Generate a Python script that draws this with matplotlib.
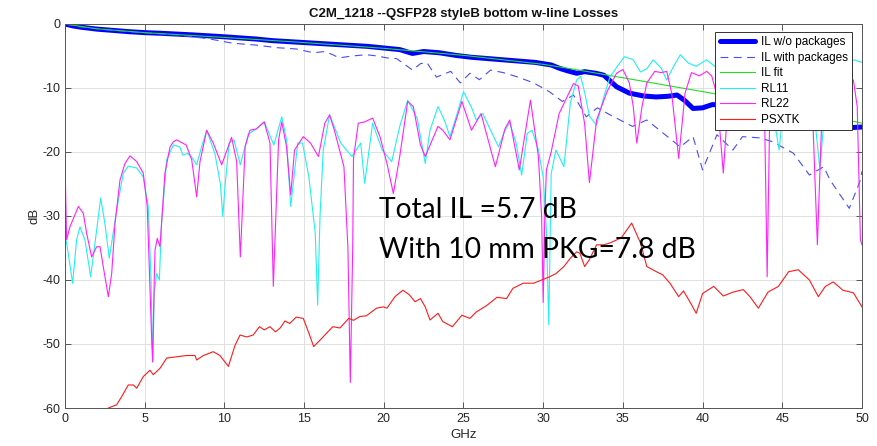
import matplotlib
matplotlib.use("Agg")
import matplotlib.pyplot as plt

plt.rcParams['font.family'] = ['Liberation Sans', 'DejaVu Sans']
plt.rcParams['axes.unicode_minus'] = False

# IL without packages (thick blue)
il_f = [0, 0.5, 1, 2, 3, 4, 5, 6, 8, 10, 12, 13, 15, 17, 19, 20, 21, 21.8, 22.5, 23.5,
        24.5, 25.5, 26.5, 27.5, 28.5, 29.5, 30.5, 31.0, 31.5, 32.1, 32.6, 33.3, 33.8, 34.6,
        35.4, 36.3, 37.1, 37.8, 38.4, 38.9, 39.4, 40.0, 40.6, 41.5, 43, 45, 47, 48.2, 49.2, 50]
il_db = [0, -0.3, -0.5, -0.8, -1.0, -1.2, -1.35, -1.45, -1.7, -2.0, -2.35, -2.6, -2.9, -3.2,
         -3.5, -3.75, -4.0, -4.6, -4.3, -4.5, -4.9, -5.2, -5.4, -5.6, -5.8, -6.0, -6.4, -6.9,
         -7.3, -7.7, -7.45, -7.7, -8.0, -9.8, -10.8, -11.25, -11.4, -11.3, -11.1, -12.0,
         -13.2, -13.1, -12.6, -12.6, -13.3, -14.0, -14.6, -15.5, -16.2, -16.1]

# IL with packages (dashed)
ilp_f = [0, 1, 3, 5, 7, 8, 9, 10.5, 12, 13.3, 14.5, 15.6, 16.3, 16.8, 17.2, 18, 18.9, 19.6,
         20.2, 20.8, 21.8, 22.3, 22.7, 23.3, 24.2, 24.8, 25.4, 26.0, 26.7, 27.5, 28.3, 29.4,
         30.4, 31.2, 31.9, 32.7, 33.4, 34.2, 35.6, 36.5, 37.5, 38.6, 39.4, 40.0, 40.9, 41.9,
         42.5, 43.6, 44.4, 45.7, 46.7, 47.6, 48.0, 49.2, 49.9, 50]
ilp_db = [0, -0.5, -1.0, -1.4, -1.7, -2.0, -2.3, -3.0, -3.3, -3.7, -3.9, -4.5, -4.3, -4.8,
          -5.3, -5.0, -4.8, -5.0, -5.3, -5.4, -7.2, -6.2, -6.0, -8.3, -7.4, -9.2, -7.7, -8.7,
          -7.2, -7.6, -8.2, -9.2, -10.6, -12.1, -11.1, -14.5, -13.1, -14.2, -16.0, -15.0,
          -17.0, -19.2, -17.6, -22.8, -17.3, -19.7, -17.6, -17.8, -18.4, -20.2, -23.6, -22.3,
          -24.4, -28.8, -24.4, -23.0]

# IL fit
fit_f = [0, 2, 5, 10, 15, 20, 25, 30, 32, 35, 38, 41, 44, 47, 50]
fit_db = [0, -0.75, -1.35, -2.1, -2.9, -3.8, -4.9, -6.3, -7.1, -8.4, -9.7, -11.0, -12.4,
          -13.9, -15.5]

# RL11 (cyan)
rl11_f = [0.0, 0.06, 0.2, 0.48, 0.73, 0.94, 1.25, 1.61, 1.88, 2.24, 2.5, 2.78, 3.03, 3.35,
          3.66, 3.97, 4.5, 4.91, 5.22, 5.4, 5.5, 5.6, 5.75, 5.92, 6.06, 6.38, 6.8, 7.2, 7.4,
          7.7, 8.0, 8.26, 8.57, 8.89, 9.4, 9.75, 9.9, 10.05, 10.3, 10.6, 11.0, 11.5, 12.0,
          12.5, 13.1, 13.6, 13.9, 14.16, 14.6, 14.9, 15.3, 15.7, 15.85, 16.0, 16.2, 16.6,
          17.3, 18.0, 18.55, 18.8, 19.3, 19.9, 20.5, 21.0, 21.5, 22.1, 22.6, 22.9, 23.4,
          23.8, 24.15, 24.6, 25.0, 25.5, 25.8, 26.2, 26.7, 27.2, 27.6, 27.9, 28.3, 28.65,
          29.0, 29.3, 29.7, 30.0, 30.2, 30.35, 30.5, 30.8, 31.3, 31.7, 32.1, 32.35, 32.6,
          32.9, 33.35, 33.8, 34.2, 34.8, 35.1, 35.65, 36.1, 36.5, 36.9, 37.4, 37.75, 38.1,
          38.6, 39.1, 39.6, 40.26, 40.8, 41.5, 42.5, 43.5, 44.3, 44.8, 45.2, 46.0, 46.8,
          47.35, 47.8, 48.5, 49.5, 50.0]
rl11_db = [-21.2, -33.7, -35.8, -40.5, -33.7, -31.7, -33.7, -39.5, -34.3, -27.2, -31.1,
           -36.6, -32.5, -27.5, -23.3, -22.2, -22.5, -23.9, -28.5, -40.0, -52.8, -42.0,
           -39.0, -40.0, -31.1, -21.2, -18.9, -19.2, -20.5, -20.2, -21.0, -22.0, -19.2,
           -16.6, -20.2, -25.0, -30.1, -25.0, -18.6, -18.1, -22.0, -17.2, -16.4, -15.3,
           -18.9, -14.5, -18.1, -28.5, -18.6, -18.6, -23.9, -32.7, -43.9, -30.0, -19.7,
           -14.2, -18.6, -20.7, -18.6, -24.9, -15.5, -19.7, -21.5, -16.0, -11.9, -14.8,
           -21.8, -16.6, -12.9, -15.0, -17.6, -14.0, -10.6, -13.0, -15.0, -14.0, -16.6,
           -19.2, -16.6, -15.4, -18.6, -23.6, -17.1, -16.6, -19.7, -23.9, -32.2, -47.0,
           -23.4, -19.7, -22.3, -12.4, -8.75, -8.2, -10.7, -14.4, -15.8, -11.4, -8.2, -6.1,
           -5.1, -5.6, -7.5, -7.0, -5.6, -6.9, -8.75, -7.0, -4.8, -6.1, -6.6, -5.6, -6.7,
           -8.0, -7.0, -9.0, -12.0, -19.7, -10.0, -7.0, -9.0, -22.5, -10.0, -7.0, -5.6, -6.0]

# RL22 (magenta)
rl22_f = [0.0, 0.1, 0.31, 0.84, 1.15, 1.36, 1.67, 1.99, 2.2, 2.4, 2.72, 2.93, 3.14, 3.45,
          3.76, 4.08, 4.5, 4.91, 5.16, 5.44, 5.5, 5.6, 5.65, 5.79, 5.96, 6.27, 6.59, 6.8,
          7.0, 7.6, 7.95, 8.26, 8.47, 8.89, 9.3, 9.83, 10.45, 10.77, 11.0, 11.3, 11.6, 12.0,
          12.5, 12.86, 13.07, 13.4, 13.6, 13.9, 14.16, 14.4, 14.95, 15.4, 15.9, 16.3, 16.6,
          16.9, 17.5, 17.75, 17.9, 18.05, 18.1, 18.4, 18.8, 19.3, 19.76, 20.2, 20.6, 21.0,
          21.5, 21.85, 22.3, 22.6, 23.4, 23.7, 24.15, 24.9, 25.5, 26.1, 27.0, 27.6, 27.9,
          28.5, 29.2, 29.7, 29.9, 30.0, 30.1, 30.2, 30.5, 31.0, 31.9, 32.2, 32.6, 32.9,
          33.35, 34.0, 34.6, 35.0, 35.4, 35.65, 35.87, 36.2, 36.5, 37.0, 37.4, 37.75, 38.06,
          38.5, 38.9, 39.3, 39.8, 40.26, 40.57, 40.9, 41.3, 41.6, 42.5, 43.5, 43.9, 44.05,
          44.2, 45.0, 46.0, 46.9, 47.2, 47.5, 48.5, 49.46, 49.7, 49.9, 50.0]
rl22_db = [-21.2, -33.7, -31.7, -28.5, -29.6, -32.7, -36.4, -34.8, -34.8, -37.9, -42.6,
           -39.0, -31.1, -24.4, -21.8, -20.6, -21.5, -23.3, -28.5, -49.4, -52.8, -40.0,
           -35.3, -33.5, -34.8, -23.3, -19.2, -18.4, -18.1, -18.9, -21.2, -27.0, -21.5,
           -16.6, -18.6, -22.0, -17.7, -21.5, -36.4, -19.2, -16.6, -16.4, -15.3, -18.6,
           -41.0, -18.1, -15.3, -19.2, -26.7, -19.7, -17.6, -18.6, -20.7, -15.5, -14.2,
           -16.6, -22.3, -35.0, -56.0, -35.0, -21.0, -15.5, -15.3, -14.7, -17.6, -21.8,
           -26.5, -20.7, -12.1, -12.9, -18.9, -20.7, -16.0, -16.6, -18.1, -12.1, -16.6,
           -14.0, -22.3, -16.4, -15.0, -22.8, -11.9, -20.7, -30.0, -43.5, -30.0, -22.8,
           -20.0, -14.0, -9.3, -9.7, -15.6, -24.8, -15.0, -10.6, -7.7, -7.1, -9.2, -12.9,
           -18.6, -12.9, -9.2, -7.4, -7.6, -7.4, -10.8, -21.0, -10.8, -7.6, -8.1, -7.4,
           -8.1, -11.1, -23.3, -12.0, -9.0, -10.0, -16.0, -39.5, -16.0, -10.0, -9.0, -14.0,
           -34.5, -13.0, -9.0, -8.75, -12.9, -33.75, -34.5]

# PSXTK (red)
xt_f = [2.72, 3.24, 3.56, 3.97, 4.29, 4.5, 4.91, 5.33, 5.54, 5.96, 6.38, 7.0, 7.6, 8.16,
        8.26, 8.68, 9.3, 9.72, 10.25, 10.67, 10.98, 11.4, 11.8, 12.2, 12.5, 12.86, 13.2,
        13.5, 13.8, 14.1, 14.5, 14.95, 15.3, 15.6, 16.0, 16.3, 16.8, 17.25, 17.8, 18.1,
        18.5, 18.9, 19.55, 19.97, 20.2, 20.7, 21.2, 21.6, 21.96, 22.3, 22.6, 22.9, 23.4,
        23.7, 24.3, 24.9, 25.4, 25.8, 26.45, 27.1, 27.7, 28.1, 28.75, 29.4, 29.9, 30.4,
        30.8, 31.3, 31.7, 32.1, 32.3, 32.6, 32.9, 33.35, 33.8, 34.2, 34.9, 35.55, 36.1,
        36.5, 37.1, 37.5, 37.95, 38.5, 38.8, 39.2, 39.6, 40.0, 40.7, 41.3, 41.9, 42.55,
        42.97, 43.5, 44.1, 44.75, 45.4, 46.0, 46.7, 47.26, 47.7, 48.2, 48.8, 49.46, 50.0]
xt_db = [-60.0, -59.5, -58.2, -56.4, -56.4, -56.9, -55.1, -54.1, -54.8, -53.8, -52.2, -52.0,
         -51.8, -51.8, -52.5, -51.8, -51.2, -51.8, -53.5, -50.2, -48.6, -48.9, -48.6, -47.3,
         -47.8, -47.3, -48.1, -47.5, -46.4, -46.8, -45.8, -46.0, -48.3, -50.4, -49.4,
         -48.6, -47.3, -47.5, -46.0, -46.3, -45.7, -45.6, -44.4, -44.2, -44.4, -42.6,
         -41.6, -42.3, -43.4, -42.9, -44.2, -46.25, -45.2, -46.5, -47.3, -45.5, -46.0,
         -45.0, -44.0, -42.7, -42.9, -41.3, -40.5, -40.5, -40.0, -39.5, -39.0, -37.9,
         -36.6, -35.6, -35.8, -37.9, -36.8, -34.5, -34.5, -34.2, -33.4, -31.1, -34.2,
         -37.9, -38.7, -39.2, -40.5, -42.6, -41.7, -43.4, -45.2, -42.1, -41.0, -42.5,
         -41.9, -41.5, -42.6, -44.4, -41.9, -41.0, -38.7, -38.4, -40.0, -42.6, -41.0,
         -40.3, -41.6, -42.0, -44.2]

fig = plt.figure(figsize=(8.77, 4.46), dpi=100)
ax = fig.add_axes([0.0741, 0.0852, 0.9088, 0.8610])

thin = 0.8
ax.plot(il_f, il_db, color='#0000ff', lw=3.6, label='IL w/o packages', solid_capstyle='round')
ax.plot(ilp_f, ilp_db, color='#4a4aff', lw=0.8, dashes=(7, 5), label='IL with packages')
ax.plot(fit_f, fit_db, color='#22dd22', lw=thin, label='IL fit')
ax.plot(rl11_f, rl11_db, color='#22f0f0', lw=thin, label='RL11')
ax.plot(rl22_f, rl22_db, color='#ff22ff', lw=thin, label='RL22')
ax.plot(xt_f, xt_db, color='#ff1a1a', lw=thin, label='PSXTK')

ax.set_xlim(0, 50)
ax.set_ylim(-60, 0)
ax.set_xticks(range(0, 51, 5))
ax.set_yticks(range(-60, 1, 10))
ax.grid(True, color='#dcdcdc', lw=0.6)
ax.set_axisbelow(True)
for s in ax.spines.values():
    s.set_color('#555555')
    s.set_linewidth(0.7)
ax.tick_params(direction='in', top=True, right=True, length=4, width=0.7,
               colors='#555555', labelcolor='#262626', labelsize=9)

ax.set_title('C2M_1218 --QSFP28 styleB bottom w-line Losses', fontsize=9.5,
             fontweight='bold', color='#111111', pad=5)
ax.set_xlabel('GHz', fontsize=9.5, color='#262626', labelpad=3)
ax.set_ylabel('dB', fontsize=9.5, color='#262626', labelpad=1)

ax.text(19.7, -29, 'Total IL =5.7 dB', fontsize=20.3, family='Lato', va='center', color='black')
ax.text(19.7, -35.3, 'With 10 mm PKG=7.8 dB', fontsize=20.3, family='Lato', va='center',
        color='black')

leg = ax.legend(loc='upper right', bbox_to_anchor=(0.9875, 0.979), fontsize=8.5,
                handlelength=3.0, handletextpad=0.5, fancybox=False, framealpha=1,
                edgecolor='#333333', borderpad=0.35, labelspacing=0.3, borderaxespad=0)
leg.get_frame().set_linewidth(0.7)

fig.savefig('out.png', dpi=100)
